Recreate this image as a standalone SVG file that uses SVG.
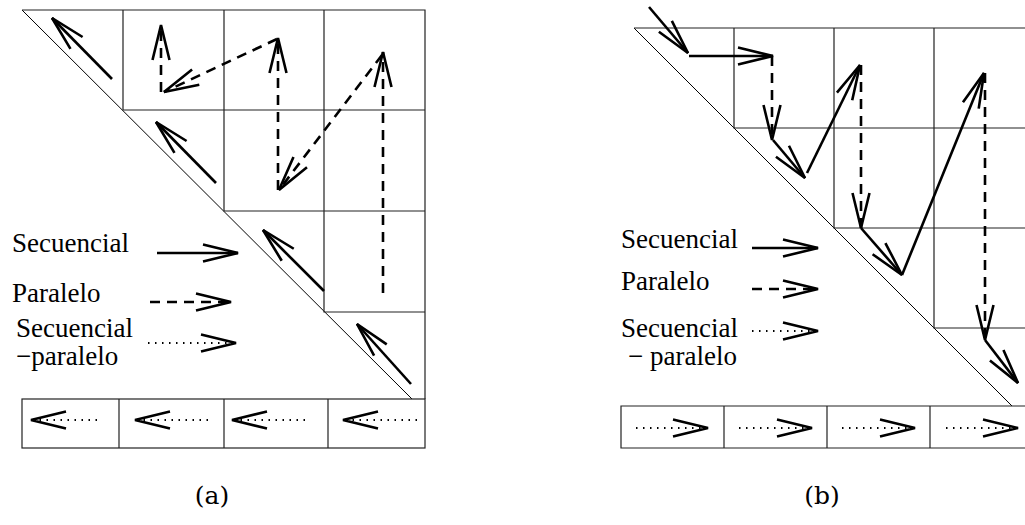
<svg xmlns="http://www.w3.org/2000/svg" width="1025" height="525" viewBox="0 0 1025 525">
<style>
.grid{stroke:#222;stroke-width:1.2;fill:none}
.diag{stroke:#000;stroke-width:1;fill:none}
.seq{stroke:#000;stroke-width:2.6;fill:none;marker-end:url(#head)}
.par{stroke:#000;stroke-width:2.6;fill:none;stroke-dasharray:10 7;marker-end:url(#head)}
.sp{stroke:#000;stroke-width:1.8;fill:none;stroke-dasharray:1.5 5.5;marker-end:url(#head)}
.lbl{font-family:"Liberation Serif","Times New Roman",serif;font-size:27px;fill:#000}
.cap{font-family:"DejaVu Serif","Liberation Serif",serif;font-size:25px;fill:#000}
</style>
<defs>
<marker id="head" markerUnits="userSpaceOnUse" viewBox="-40 -12 44 24" markerWidth="44" markerHeight="24" refX="0" refY="0" orient="auto" overflow="visible">
<path d="M-35,-8.5 L0,0 L-35,8.5" fill="none" stroke="#000" stroke-width="2.6" stroke-dasharray="none"/>
</marker>
</defs>

<g id="panel-a-grid">
<line class="diag" x1="22" y1="10" x2="412" y2="399"/>
<path class="grid" d="M22,10 H425 V399 M123,10 V110 H425 M224,10 V211 H425 M324,10 V312 H425"/>
<rect class="grid" x="22" y="399" width="403" height="49"/>
<path class="grid" d="M119,399 V448 M224,399 V448 M328,399 V448"/>
</g>

<g id="panel-b-grid">
<line class="diag" x1="634" y1="28" x2="1012" y2="406"/>
<path class="grid" d="M634,28 H1025 M734,28 V128 H1025 M834,28 V228 H1025 M934,28 V328 H1025"/>
<path class="grid" d="M1025,406 H621 V448 H1025 M724,406 V448 M827,406 V448 M930,406 V448"/>
</g>

<g id="connectors-a">
<line class="seq" x1="112" y1="79" x2="52" y2="18"/>
<line class="seq" x1="216" y1="183" x2="156" y2="122"/>
<line class="seq" x1="324" y1="291" x2="263" y2="230"/>
<line class="seq" x1="411" y1="384" x2="357" y2="324"/>
<line class="par" x1="383" y1="293" x2="383" y2="52"/>
<line class="par" x1="382" y1="55" x2="279" y2="190"/>
<line class="par" x1="278" y1="190" x2="278" y2="38"/>
<line class="par" x1="277" y1="39" x2="164" y2="92"/>
<line class="par" x1="161" y1="92" x2="161" y2="25"/>
<line class="sp" x1="97" y1="420" x2="31" y2="420"/>
<line class="sp" x1="208" y1="420" x2="135" y2="420"/>
<line class="sp" x1="305" y1="420" x2="232" y2="420"/>
<line class="sp" x1="417" y1="420" x2="343" y2="420"/>
</g>

<g id="legend-a">
<text class="lbl" x="12" y="252">Secuencial</text>
<line class="seq" x1="157" y1="253" x2="238" y2="253"/>
<text class="lbl" x="12" y="302">Paralelo</text>
<line class="par" x1="150" y1="302" x2="231" y2="302"/>
<text class="lbl" x="16" y="337">Secuencial</text>
<text class="lbl" x="16" y="365">−paralelo</text>
<line class="sp" x1="148" y1="343" x2="236" y2="343"/>
</g>

<g id="connectors-b">
<line class="seq" x1="649" y1="7" x2="688" y2="53"/>
<line class="seq" x1="689" y1="56" x2="773" y2="56"/>
<line class="par" x1="772" y1="56" x2="772" y2="140"/>
<line class="seq" x1="773" y1="140" x2="805" y2="178"/>
<line class="seq" x1="807" y1="173" x2="860" y2="65"/>
<line class="par" x1="861" y1="65" x2="861" y2="228"/>
<line class="seq" x1="861" y1="228" x2="902" y2="275"/>
<line class="seq" x1="902" y1="275" x2="984" y2="73"/>
<line class="par" x1="985" y1="73" x2="985" y2="340"/>
<line class="seq" x1="985" y1="340" x2="1018" y2="383"/>
<line class="sp" x1="636" y1="428" x2="708" y2="428"/>
<line class="sp" x1="739" y1="428" x2="812" y2="428"/>
<line class="sp" x1="842" y1="428" x2="915" y2="428"/>
<line class="sp" x1="946" y1="428" x2="1018" y2="428"/>
</g>

<g id="legend-b">
<text class="lbl" x="621" y="248">Secuencial</text>
<line class="seq" x1="752" y1="248" x2="818" y2="248"/>
<text class="lbl" x="621" y="290">Paralelo</text>
<line class="par" x1="752" y1="289" x2="818" y2="289"/>
<text class="lbl" x="621" y="337">Secuencial</text>
<line class="sp" x1="752" y1="331" x2="818" y2="331"/>
<text class="lbl" x="628" y="365">− paralelo</text>
</g>

<g id="captions">
<text class="cap" x="212" y="504" text-anchor="middle">(a)</text>
<text class="cap" x="822" y="504" text-anchor="middle">(b)</text>
</g>
</svg>
